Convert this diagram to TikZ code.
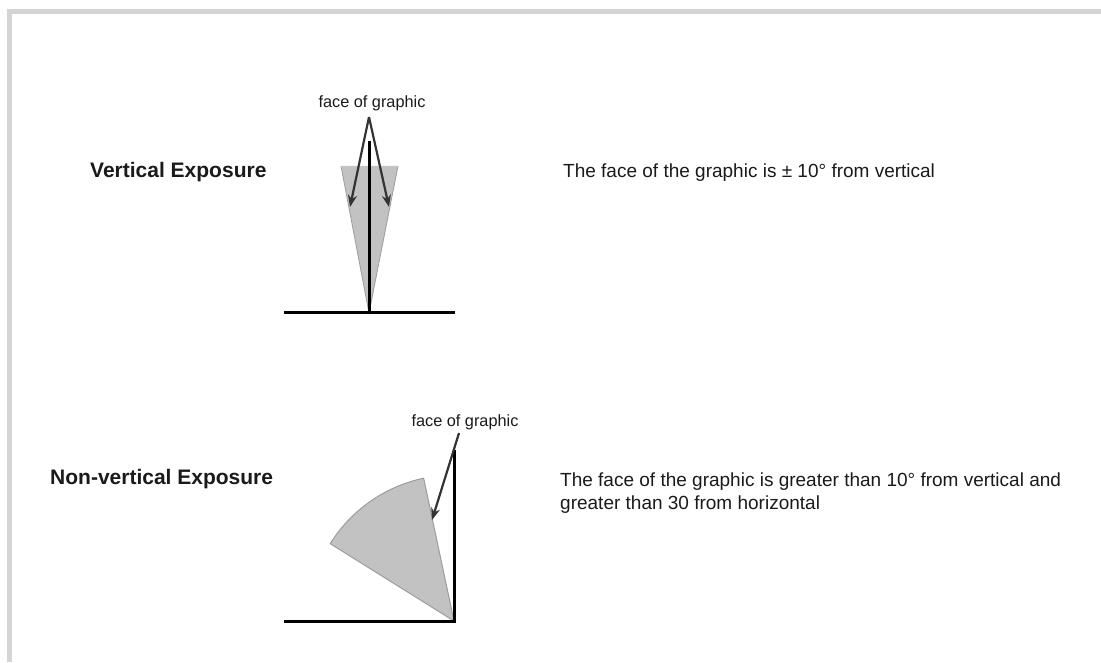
\documentclass[tikz,border=0pt]{standalone}
\usepackage{fontspec}
\setmainfont{Liberation Sans}
\usetikzlibrary{arrows.meta}
\definecolor{framegray}{HTML}{D4D4D4}
\definecolor{fillgray}{HTML}{C2C2C2}
\definecolor{edgegray}{HTML}{9C9C9C}
\definecolor{arrowgray}{HTML}{333333}
\definecolor{textdark}{HTML}{1A1A1A}
\tikzset{
  heading/.style={anchor=base west, inner sep=0pt, text=textdark, font=\fontsize{21}{25}\selectfont\bfseries},
  desc/.style={anchor=base west, inner sep=0pt, text=textdark, font=\fontsize{19}{22}\selectfont, align=left},
  facelabel/.style={anchor=base, inner sep=0pt, text=textdark, font=\fontsize{16.3}{19}\selectfont},
  ground/.style={line width=3pt, black},
  sectorshape/.style={fill=fillgray, draw=edgegray, line width=1pt, line join=round},
  pointer/.style={arrowgray, line width=2.2pt, -{Stealth[length=12pt,width=9pt]}}
}
\begin{document}
\begin{tikzpicture}[x=1pt,y=1pt]
\useasboundingbox (0,0) rectangle (1101,662);
% frame
\fill[framegray] (7,648) rectangle (1101,653);
\fill[framegray] (7,0) rectangle (12,653);

% ---- upper: vertical exposure
\coordinate (ua) at (369,349);
\coordinate (ul) at (341,496);
\coordinate (ur) at (398,496);
\coordinate (utop) at (369,521);
\coordinate (ugl) at (284,349);
\coordinate (ugr) at (455,349);
\coordinate (uarrowstart) at (369,545);
\coordinate (utipl) at (350,455);
\coordinate (utipr) at (389,455);
\fill[fillgray] (ua) -- (ul) -- (ur) -- cycle;
\draw[edgegray, line width=0.8pt] (ul) -- (ua) -- (ur);
\draw[edgegray!60, line width=0.8pt] (ul) -- (ur);
\draw[ground] (ugl) -- (ugr);
\draw[ground] (ua) -- (utop);
\draw[pointer] (uarrowstart) -- (utipl);
\draw[pointer] (uarrowstart) -- (utipr);
\node[facelabel] (ulabel) at (372,554) {face of graphic};

\node[heading] (vh) at (90,484) {Vertical Exposure};
\node[desc] (vd) at (563,484) {The face of the graphic is ± 10° from vertical};

% ---- lower: non-vertical exposure
\coordinate (la) at (454,41);
\coordinate (ltop) at (454,212);
\coordinate (lgl) at (284,41);
\coordinate (lgr) at (455.5,41);
\coordinate (lstart) at (459,229);
\coordinate (ltip) at (432,142);
\draw[sectorshape] (la) -- ++(102:146) arc[start angle=102, end angle=148, radius=146] -- cycle;
\draw[ground] (lgl) -- (lgr);
\draw[ground] (la) -- (ltop);
\draw[pointer] (lstart) -- (ltip);
\node[facelabel] (llabel) at (465,235) {face of graphic};

\node[heading] (nh) at (50,177) {Non-vertical Exposure};
\node[desc] (nd1) at (560,175) {The face of the graphic is greater than 10° from vertical and};
\node[desc] (nd2) at (560,153) {greater than 30 from horizontal};
\end{tikzpicture}
\end{document}
